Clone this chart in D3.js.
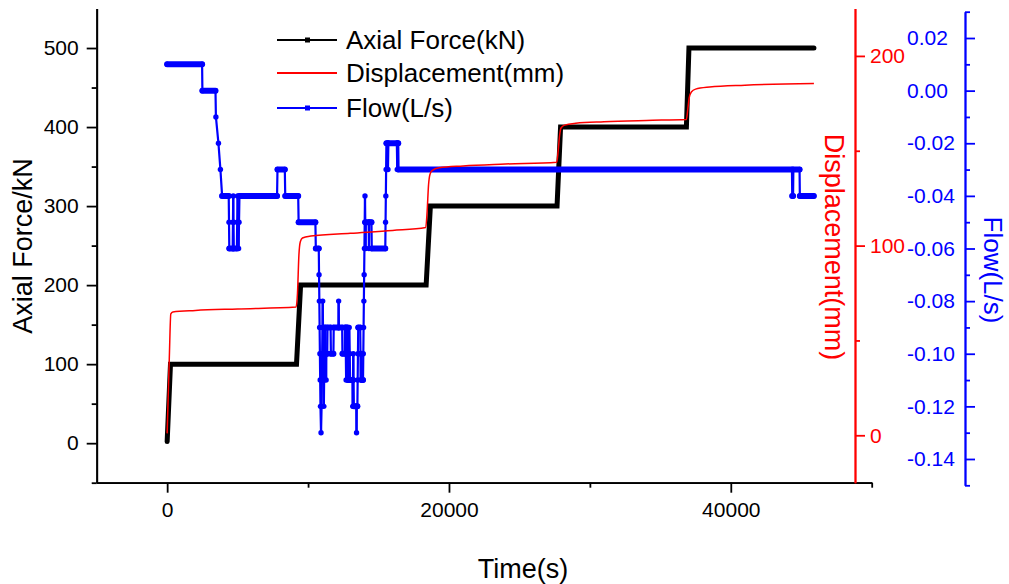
<!DOCTYPE html>
<html>
<head>
<meta charset="utf-8">
<script src="https://cdn.jsdelivr.net/npm/d3@7"></script>
<style>
  body { margin: 0; background: white; }
  text { font-family: Arial, "Liberation Sans", sans-serif; }
</style>
</head>
<body>
<div id="container"></div>
<script>
let w = 1009;
let h = 584;

// axial force (kN) vs time (s)
let forceTime = [0, 236, 9180, 9470, 18380, 18680, 27670, 27920, 36850, 37030, 45900];
let forceValue = [2, 100, 100, 200, 200, 300, 300, 400, 400, 500, 500];

// displacement (mm) vs time (s)
let dispTime = [0, 150, 260, 400, 2000, 5000, 9150, 9250, 9350, 9450, 9600, 10200, 13000, 16000, 18350, 18450, 18550, 18650, 18800, 19300, 21000, 24000, 27650, 27750, 27850, 27950, 28200, 29000, 31000, 34000, 36850, 36950, 37050, 37200, 37500, 38500, 41000, 45900];
let dispValue = [1, 40, 64, 65, 65.8, 66.6, 67.6, 75, 95, 102, 104, 105, 106.5, 108, 109.5, 118, 132, 137.5, 139.5, 141, 142, 143, 144, 150, 158, 162, 163.5, 164.5, 165.3, 166, 166.5, 172, 178, 181, 182.5, 183.6, 184.6, 185.5];

// flow (L/s) vs time (s)
let flowTime = [0, 2480, 2500, 3430, 3460, 3640, 3780, 3900, 4370, 4390, 4410, 4650, 4670, 4690, 4710, 4730, 4950, 4970, 5000, 5040, 5070, 5100, 5130,
  7800, 7830, 8350, 8380, 9300, 9330, 10520, 10550, 10760,
  10780, 10800, 10820, 10840, 10860, 10880, 10920, 10960, 10980, 11000, 11020, 11040, 11060, 11080, 11100, 11120, 11140, 11160, 11180, 11240, 11260, 11280, 11300, 11360, 11380,
  11600, 11620, 11800, 11820, 12150, 12170, 12190, 12420, 12440, 12600, 12620, 12660, 12680, 12700, 12740, 12760, 12800, 12820, 12840, 12880, 12900, 12920, 12960, 12980,
  13150, 13170, 13190, 13210, 13230, 13250, 13420, 13440, 13460, 13500, 13520, 13540, 13560, 13700, 13720, 13740, 13760, 13800, 13820, 13900,
  13920, 13940, 13960, 13980, 14000, 14020, 14040, 14060, 14080, 14100, 14300, 14320, 14360, 14500, 14520,
  15480, 15500, 15520, 15540, 15560, 15650, 15670, 15700, 16300, 16330, 16360, 16400, 16420,
  44340, 44360, 44420, 44440, 44880, 44900, 45890];
let flowValue = [0.01, 0.01, 0.00, 0.00, -0.01, -0.02, -0.03, -0.04, -0.04, -0.05, -0.06, -0.06, -0.05, -0.04, -0.05, -0.06, -0.06, -0.05, -0.04, -0.05, -0.06, -0.05, -0.04,
  -0.04, -0.03, -0.03, -0.04, -0.04, -0.05, -0.05, -0.06, -0.06,
  -0.07, -0.08, -0.09, -0.10, -0.11, -0.12, -0.13, -0.12, -0.11, -0.10, -0.09, -0.08, -0.09, -0.10, -0.11, -0.12, -0.11, -0.10, -0.09, -0.09, -0.10, -0.11, -0.10, -0.10, -0.09,
  -0.09, -0.10, -0.10, -0.09, -0.09, -0.08, -0.09, -0.09, -0.10, -0.10, -0.09, -0.09, -0.10, -0.11, -0.10, -0.09, -0.09, -0.10, -0.11, -0.11, -0.10, -0.09, -0.10, -0.11,
  -0.11, -0.12, -0.11, -0.10, -0.11, -0.12, -0.12, -0.13, -0.12, -0.12, -0.11, -0.10, -0.09, -0.09, -0.10, -0.11, -0.10, -0.10, -0.11, -0.11,
  -0.10, -0.09, -0.08, -0.07, -0.06, -0.05, -0.04, -0.05, -0.06, -0.05, -0.05, -0.06, -0.05, -0.05, -0.06,
  -0.06, -0.05, -0.04, -0.03, -0.02, -0.02, -0.03, -0.02, -0.02, -0.03, -0.02, -0.02, -0.03,
  -0.03, -0.04, -0.04, -0.03, -0.03, -0.04, -0.04];

let xTicks = [0, 20000, 40000];
let xMinor = [10000, 30000, 50000];
let forceTicks = [0, 100, 200, 300, 400, 500];
let forceMinor = [-50, 50, 150, 250, 350, 450];
let dispTicks = [0, 100, 200];
let dispMinor = [50, 150];
let flowTicks = [0.02, 0.00, -0.02, -0.04, -0.06, -0.08, -0.10, -0.12, -0.14];
let flowMinor = [0.03, 0.01, -0.01, -0.03, -0.05, -0.07, -0.09, -0.11, -0.13, -0.15];

let legendNames = ["Axial Force(kN)", "Displacement(mm)", "Flow(L/s)"];
let legendColors = ["#000000", "#ff0000", "#0000ff"];

let viz = d3.select("#container").append("svg")
    .attr("width", w)
    .attr("height", h)
    .style("background-color", "white")
;

let xScale = d3.scaleLinear().domain([-5000, 50000]).range([96.7, 871.7]);
let yForce = d3.scaleLinear().domain([-50, 550]).range([482.7, 8.5]);
let yDisp = d3.scaleLinear().domain([-25, 225]).range([482.7, 8.5]);
let yFlow = d3.scaleLinear().domain([-0.15, 0.03]).range([485.3, 11.7]);

function styleAxis(g, color, size) {
  g.selectAll("path").attr("stroke", color).attr("stroke-width", 1.8);
  g.selectAll("line").attr("stroke", color).attr("stroke-width", 1.8);
  g.selectAll("text").attr("fill", color).attr("font-size", size)
    .attr("font-family", "Arial, 'Liberation Sans', sans-serif");
}

// x axis
let xAxisG = viz.append("g").attr("transform", "translate(0,482.7)")
    .call(d3.axisBottom(xScale).tickValues(xTicks).tickFormat(d3.format("d")).tickSize(10).tickSizeOuter(0).tickPadding(9));
styleAxis(xAxisG, "black", 21);
let xMinorG = viz.append("g").attr("transform", "translate(0,482.7)")
    .call(d3.axisBottom(xScale).tickValues(xMinor).tickFormat("").tickSize(5).tickSizeOuter(0));
styleAxis(xMinorG, "black", 21);

// left axis
let yAxisG = viz.append("g").attr("transform", "translate(96.7,0)")
    .call(d3.axisLeft(yForce).tickValues(forceTicks).tickSize(10).tickSizeOuter(0).tickPadding(8));
styleAxis(yAxisG, "black", 21);
let yMinorG = viz.append("g").attr("transform", "translate(96.7,0)")
    .call(d3.axisLeft(yForce).tickValues(forceMinor).tickFormat("").tickSize(5).tickSizeOuter(0));
styleAxis(yMinorG, "black", 21);

// displacement axis
let dAxisG = viz.append("g").attr("transform", "translate(855,0)")
    .call(d3.axisRight(yDisp).tickValues(dispTicks).tickSize(10).tickSizeOuter(0).tickPadding(5));
styleAxis(dAxisG, "#ff0000", 21);
let dMinorG = viz.append("g").attr("transform", "translate(855,0)")
    .call(d3.axisRight(yDisp).tickValues(dispMinor).tickFormat("").tickSize(5).tickSizeOuter(0));
styleAxis(dMinorG, "#ff0000", 21);

// flow axis, labels sit on the inner side
let fAxisG = viz.append("g").attr("transform", "translate(965,0)")
    .call(d3.axisRight(yFlow).tickValues(flowTicks).tickFormat(function(d) { return d.toFixed(2); }).tickSize(10).tickSizeOuter(0));
styleAxis(fAxisG, "#0000ff", 21);
fAxisG.selectAll("text").attr("x", -58).attr("text-anchor", "start");
let fMinorG = viz.append("g").attr("transform", "translate(965,0)")
    .call(d3.axisRight(yFlow).tickValues(flowMinor).tickFormat("").tickSize(5).tickSizeOuter(0));
styleAxis(fMinorG, "#0000ff", 21);

// axis titles
viz.append("text")
    .text("Time(s)")
    .attr("x", 523)
    .attr("y", 578)
    .attr("text-anchor", "middle")
    .attr("font-size", 27)
;
viz.append("text")
    .text("Axial Force/kN")
    .attr("transform", "translate(32,246) rotate(-90)")
    .attr("text-anchor", "middle")
    .attr("font-size", 27)
;
viz.append("text")
    .text("Displacement(mm)")
    .attr("transform", "translate(825,247) rotate(90)")
    .attr("text-anchor", "middle")
    .attr("fill", "#ff0000")
    .attr("font-size", 27)
;
viz.append("text")
    .text("Flow(L/s)")
    .attr("transform", "translate(984,270) rotate(90)")
    .attr("text-anchor", "middle")
    .attr("fill", "#0000ff")
    .attr("font-size", 26)
;

// series
let forceData = forceTime.map(function(t, i) { return [t, forceValue[i]]; });
let dispData = dispTime.map(function(t, i) { return [t, dispValue[i]]; });
let flowData = flowTime.map(function(t, i) { return [t, flowValue[i]]; });

let forceLine = d3.line().x(function(d) { return xScale(d[0]); }).y(function(d) { return yForce(d[1]); });
let dispLine = d3.line().x(function(d) { return xScale(d[0]); }).y(function(d) { return yDisp(d[1]); }).curve(d3.curveMonotoneX);

viz.append("path")
    .datum(forceData)
    .attr("d", forceLine)
    .attr("fill", "none")
    .attr("stroke", "black")
    .attr("stroke-width", 5)
    .attr("stroke-linecap", "round")
;

// flow: level runs are densely sampled, so they look thick
let flowGroup = viz.append("g");
for (let i = 1; i < flowData.length; i++) {
  let a = flowData[i - 1];
  let b = flowData[i];
  let flat = a[1] == b[1];
  flowGroup.append("line")
      .attr("x1", xScale(a[0]))
      .attr("y1", yFlow(a[1]))
      .attr("x2", xScale(b[0]))
      .attr("y2", yFlow(b[1]))
      .attr("stroke", "#0000ff")
      .attr("stroke-width", flat ? 6 : 2.2)
      .attr("stroke-linecap", "round")
  ;
}
flowGroup.selectAll("circle").data(flowData).enter()
  .append("circle")
    .attr("cx", function(d) { return xScale(d[0]); })
    .attr("cy", function(d) { return yFlow(d[1]); })
    .attr("r", 2.7)
    .attr("fill", "#0000ff")
;

viz.append("path")
    .datum(dispData)
    .attr("d", dispLine)
    .attr("fill", "none")
    .attr("stroke", "#ff0000")
    .attr("stroke-width", 1.5)
;

// legend
let legendY = [40, 73, 108];
let legend = viz.append("g");
legendNames.forEach(function(name, i) {
  legend.append("line")
      .attr("x1", 277)
      .attr("x2", 337)
      .attr("y1", legendY[i])
      .attr("y2", legendY[i])
      .attr("stroke", legendColors[i])
      .attr("stroke-width", 2)
  ;
  if (i != 1) {
    legend.append("rect")
        .attr("x", 305)
        .attr("y", legendY[i] - 2.5)
        .attr("width", 5)
        .attr("height", 5)
        .attr("fill", legendColors[i])
    ;
  }
  legend.append("text")
      .text(name)
      .attr("x", 346)
      .attr("y", legendY[i])
      .attr("dy", "0.35em")
      .attr("font-size", 26)
      .attr("fill", "black")
  ;
});
</script>
</body>
</html>
